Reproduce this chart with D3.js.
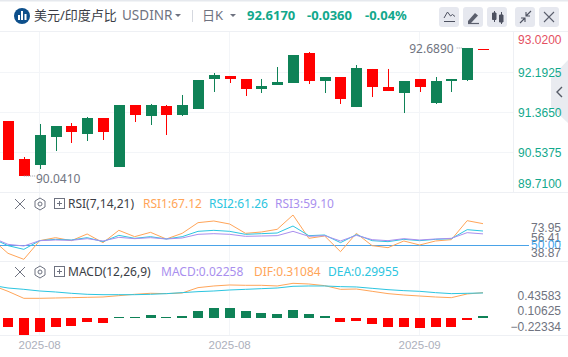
<!DOCTYPE html>
<html>
<head>
<meta charset="utf-8">
<title>USDINR</title>
<style>
  html,body{margin:0;padding:0;background:#fff;overflow:hidden;}
  svg{display:block;font-family:"Noto Sans","Noto Sans CJK SC",sans-serif;}
  .axis path,.axis line{display:none;}
</style>
<script src="https://d3js.org/d3.v7.min.js"></script>
</head>
<body>
<script>
// candles
var opens  = [91.179,90.393,90.269,90.848,91.075,90.910,91.241,90.227,91.510,91.282,91.489,91.303,91.427,92.048,92.110,92.048,91.841,91.924,91.965,92.586,92.006,92.089,91.468,92.255,91.882,91.758,92.048,91.551,92.006,92.027,92.660];
var closes = [90.372,90.041,90.889,91.075,90.951,91.241,90.951,91.510,91.303,91.510,91.303,91.510,92.027,92.130,92.048,91.841,91.903,91.986,92.544,92.006,92.089,91.634,92.275,91.882,91.799,92.006,91.882,92.006,92.048,92.689,92.650];
var highs  = [91.179,90.434,91.117,91.075,91.137,91.262,91.241,91.510,91.510,91.531,91.510,91.717,92.027,92.172,92.110,92.048,92.048,92.296,92.544,92.606,92.089,92.089,92.337,92.255,92.255,92.006,92.048,92.089,92.048,92.689,92.660];
var lows   = [90.372,90.041,90.186,90.558,90.724,90.765,90.786,90.227,91.158,91.096,90.889,91.282,91.427,91.779,91.965,91.696,91.758,91.924,91.965,91.944,91.758,91.531,91.468,91.675,91.799,91.344,91.779,91.531,91.779,92.006,92.650];

// first value of each line belongs to the candle just off the left edge
var rsi1 = [57.65,38.75,30.65,55.85,59.9,55.85,64.85,53.15,69.8,61.25,67.1,58.1,65.75,80.15,82.4,78.35,65.75,67.55,71.15,90.5,59,62.15,41,65.75,49.1,46.4,55.4,50,55.4,57.2,82.85,78.8];
var rsi2 = [59,49.1,44.15,55.85,57.65,56.75,59.9,54.5,63.05,59,61.25,58.1,61.25,68.45,69.8,68.45,64.4,65.3,66.2,75.65,62.6,63.5,53.15,63.95,55.85,54.5,57.65,55.85,57.65,58.55,70.7,68.9];
var rsi3 = [59.9,50.9,48.65,55.85,56.75,56.3,58.55,55.4,60.35,58.55,59.9,58.1,59.45,64.4,65.3,64.4,61.7,62.15,62.6,68.45,61.7,62.6,55.4,63.05,57.2,55.85,58.55,56.75,58.1,59,66.65,65];

var dif = [.684,.557,.409,.409,.416,.423,.430,.437,.465,.494,.515,.508,.522,.635,.670,.691,.684,.684,.670,.726,.712,.677,.599,.606,.557,.508,.479,.458,.437,.423,.501,.529];
var dea = [.684,.627,.599,.564,.543,.515,.494,.486,.486,.486,.494,.508,.529,.550,.564,.585,.599,.613,.627,.663,.670,.670,.656,.649,.620,.592,.571,.557,.529,.508,.515,.522];
var macdBars = [-.197,-.36,-.303,-.197,-.176,-.092,-.113,.012,.012,.056,.016,.035,.141,.204,.204,.141,.099,.078,.162,.078,.035,-.092,-.07,-.134,-.197,-.197,-.219,-.197,-.197,-.049,.035];

var priceTicks = [93.02,92.1925,91.365,90.5375,89.71];
var rsiTicks = [73.95,56.41,50,38.87];
var macdTicks = [0.43583,0.10625,-0.22334];
var dateTicks = [2,14,26];
var dateLabels = ["2025-08","2025-08","2025-09"];

var width = 568, height = 357;
var red = "#ff0000", green = "#0f8257", upText = "#12a88c", gridCol = "#f3f5f8";
var orange = "#ffa559", cyan = "#2cc5e0", purple = "#a98fee";

var svg = d3.select("body").append("svg").attr("width",width).attr("height",height);

var x = d3.scaleLinear().domain([0,30]).range([8,483]);
var y = d3.scaleLinear().domain([89.71,93.02]).range([192,32]);
var yRsi = d3.scaleLinear().domain([38.87,73.95]).range([253.24,227.26]);
var yMacd = d3.scaleLinear().domain([-0.22334,0.43583]).range([328.23,297.05]);

// top strip and grid
svg.append("rect").attr("width",width).attr("height",1.5).attr("fill","#e6e9ee");
svg.append("line").attr("x1",0).attr("x2",width).attr("y1",31.5).attr("y2",31.5).attr("stroke","#eef0f4");

var grid = svg.append("g").attr("stroke",gridCol).attr("fill","none");
grid.selectAll(".v").data(dateTicks).enter().append("line")
  .attr("x1",d=>Math.round(x(d))-.5).attr("x2",d=>Math.round(x(d))-.5)
  .attr("y1",32).attr("y2",335);
grid.selectAll(".h").data(priceTicks.slice(1,4)).enter().append("line")
  .attr("x1",0).attr("x2",513)
  .attr("y1",d=>Math.round(y(d))+.5).attr("y2",d=>Math.round(y(d))+.5);
[192.5,261.5,335.5].forEach(function(v){
  svg.append("line").attr("x1",0).attr("x2",width).attr("y1",v).attr("y2",v).attr("stroke","#eef0f4");
});
svg.append("line").attr("x1",513.5).attr("x2",513.5).attr("y1",32).attr("y2",192).attr("stroke","#eef0f4");

// side handle, sits under the axis labels
svg.append("path").attr("d","M568,60L551,78V107L568,123Z").attr("fill","#e9ebf0");
svg.append("path").attr("d","M562,87l-5,5l5,5").attr("fill","none").attr("stroke","#555a66").attr("stroke-width",1.4);

// candles
var candles = svg.append("g").selectAll("g").data(d3.range(opens.length)).enter().append("g");
candles.append("rect")
  .attr("x",i=>Math.round(x(i)))
  .attr("width",1)
  .attr("y",i=>y(highs[i]))
  .attr("height",i=>y(lows[i])-y(highs[i]))
  .attr("fill",i=>closes[i]>=opens[i]?green:red);
candles.append("rect")
  .attr("x",i=>Math.round(x(i))-5)
  .attr("width",11)
  .attr("y",i=>Math.round(y(Math.max(opens[i],closes[i]))))
  .attr("height",i=>Math.max(1,Math.round(y(Math.min(opens[i],closes[i]))-y(Math.max(opens[i],closes[i])))))
  .attr("fill",i=>closes[i]>=opens[i]?green:red);

// high / low markers
svg.append("text").text("92.6890").attr("x",x(29)-5-8.5).attr("y",y(92.689)+5)
  .attr("text-anchor","end").attr("font-size",12).attr("fill","#70747f");
svg.append("line").attr("x1",x(29)-10.5).attr("x2",x(29)-5).attr("y1",y(92.689)).attr("y2",y(92.689))
  .attr("stroke","#9a9ea8").attr("stroke-dasharray","1 1");
svg.append("text").text("90.0410").attr("x",36).attr("y",y(90.041)+7)
  .attr("font-size",12).attr("fill","#70747f");
svg.append("line").attr("x1",x(1)).attr("x2",36).attr("y1",y(90.041)).attr("y2",y(90.041))
  .attr("stroke","#9a9ea8").attr("stroke-dasharray","1 1");

// rsi
var xl = d3.scaleLinear().domain([-1,30]).range([x(-1),x(30)]);
var lineOf = function(sc){ return d3.line().x((d,i)=>xl(i-1)).y(d=>sc(d)); };
svg.append("line").attr("x1",0).attr("x2",529).attr("y1",Math.round(yRsi(50))+.5).attr("y2",Math.round(yRsi(50))+.5)
  .attr("stroke","#4aa3e8").attr("stroke-width",1);
[[rsi1,orange],[rsi2,cyan],[rsi3,purple]].forEach(function(s){
  svg.append("path").attr("d",lineOf(yRsi)(s[0])).attr("fill","none").attr("stroke",s[1]).attr("stroke-width",1);
});

// macd
svg.append("g").selectAll("rect").data(macdBars).enter().append("rect")
  .attr("x",(d,i)=>Math.round(x(i))-5)
  .attr("width",10)
  .attr("y",d=>d>=0?Math.round(yMacd(d)):Math.round(yMacd(0)))
  .attr("height",d=>Math.max(1,Math.round(Math.abs(yMacd(d)-yMacd(0)))))
  .attr("fill",d=>d>=0?green:red);
[[dif,orange],[dea,cyan]].forEach(function(s){
  svg.append("path").attr("d",lineOf(yMacd)(s[0])).attr("fill","none").attr("stroke",s[1]).attr("stroke-width",1);
});

// right axes
var priceAxis = d3.axisLeft(y).tickValues(priceTicks).tickFormat(d3.format(".4f")).tickSize(0);
var gp = svg.append("g").attr("class","axis").attr("transform","translate(561.5,0)").call(priceAxis);
gp.selectAll("text").attr("font-size",12).attr("x",0)
  .attr("fill",d=>d===93.02?"#e4505f":upText)
  .attr("dy",d=>d===93.02?"11":d===89.71?"-5":"4");

var rsiAxis = d3.axisLeft(yRsi).tickValues(rsiTicks).tickFormat(d3.format(".2f")).tickSize(0);
var gr = svg.append("g").attr("class","axis").attr("transform","translate(561,0)").call(rsiAxis);
gr.selectAll("text").attr("font-size",12).attr("x",0)
  .attr("dy",d=>d===56.41?"1":d===38.87?"3":"4")
  .attr("fill",d=>d===50?"#3fa6ee":"#6f7380");

var macdAxis = d3.axisLeft(yMacd).tickValues(macdTicks).tickFormat(d3.format(".5f")).tickSize(0);
var gm = svg.append("g").attr("class","axis").attr("transform","translate(561,-2)").call(macdAxis);
gm.selectAll("text").attr("font-size",12).attr("x",0).attr("dy","4").attr("fill","#6f7380");

// date axis
var dateAxis = d3.axisBottom(x).tickValues(dateTicks).tickFormat((d,i)=>dateLabels[i]).tickSize(0);
var gd = svg.append("g").attr("class","axis").attr("transform","translate(-0.5,338)").call(dateAxis);
gd.selectAll("text").attr("font-size",11.5).attr("y",3).attr("dy","0.71em").attr("fill","#acb0bc");

// header
var logo = svg.append("g").attr("transform","translate(22,16)");
logo.append("circle").attr("r",8).attr("fill","#0d4f8b");
[[-4,-1,2,5],[-1,-5,2,9],[2.5,-2,2,6]].forEach(function(b){
  logo.append("rect").attr("x",b[0]).attr("y",b[1]).attr("width",b[2]).attr("height",b[3]).attr("fill","#fff");
});
function hdr(t,xp,size,col,weight){
  return svg.append("text").text(t).attr("x",xp).attr("y",20).attr("font-size",size).attr("fill",col)
    .attr("font-weight",weight||400);
}
hdr("美元/印度卢比",34,13,"#3a3d45");
hdr("USDINR",122,13.5,"#6e7280");
hdr("日K",202,13,"#6e7280");
hdr("92.6170",247,13,upText,700);
hdr("-0.0360",307,13,upText,700);
hdr("-0.04%",365,13,upText,700);
function caret(cx,cy){
  svg.append("path").attr("d",`M${cx-3},${cy-2}L${cx+3},${cy-2}L${cx},${cy+1}Z`).attr("fill","#6e7280");
}
caret(178,16); caret(233,16);
svg.append("line").attr("x1",192.5).attr("x2",192.5).attr("y1",10).attr("y2",22).attr("stroke","#d5d8df");

// header buttons
var btns = svg.append("g");
[439,463,487,515,539].forEach(function(bx){
  btns.append("rect").attr("x",bx).attr("y",7).attr("width",20).attr("height",20).attr("rx",3).attr("fill","#e6e8ef");
});
btns.append("path").attr("d","M444,21.5h11M444,18l3.5,-6l3,4l2,-1.5l2.5,2").attr("fill","none").attr("stroke","#4d5160").attr("stroke-width",1);
btns.append("path").attr("d","M468,21l7,-8l3,2.5l-7,7.5l-3,.5z").attr("fill","#5b5f6d");
btns.append("path").attr("d","M468,23.5h11").attr("stroke","#5b5f6d").attr("stroke-width",1.2);
btns.append("path").attr("d","M492.5,13h3.5v6.5h-3.5zM499.5,15h3.5v7h-3.5zM494.5,11v11M501.5,12v12").attr("fill","#4d5160").attr("stroke","#4d5160");
btns.append("path").attr("d","M520,23l5,-5M525,22v-4h-4M531,11l-5,5M526,12v4h4").attr("fill","none").attr("stroke","#4d5160").attr("stroke-width",1.1);
btns.append("path").attr("d","M544,12l10,10M554,12l-10,10").attr("fill","none").attr("stroke","#5b5f6d").attr("stroke-width",1.1);

// panel titles
function panelHead(cy,name,items){
  var g = svg.append("g");
  g.append("path").attr("d",`M15,${cy-5}l10,10M25,${cy-5}l-10,10`).attr("stroke","#6e7280").attr("fill","none");
  g.append("path").attr("d",`M40,${cy-6}l5,3v6l-5,3l-5,-3v-6z`).attr("stroke","#6e7280").attr("fill","none");
  g.append("circle").attr("cx",40).attr("cy",cy).attr("r",2).attr("stroke","#6e7280").attr("fill","none");
  g.append("rect").attr("x",54.5).attr("y",cy-5.5).attr("width",10).attr("height",10).attr("stroke","#6e7280").attr("fill","none");
  g.append("path").attr("d",`M57,${cy-.5}h5M59.5,${cy-3}v5`).attr("stroke","#6e7280").attr("fill","none");
  g.append("text").text(name).attr("x",68).attr("y",cy+4).attr("font-size",12).attr("fill","#3a3d45");
  items.forEach(function(t){
    g.append("text").text(t[0]).attr("x",t[1]).attr("y",cy+4).attr("font-size",12).attr("fill",t[2]);
  });
}
panelHead(204,"RSI(7,14,21)",[["RSI1:67.12",143,orange],["RSI2:61.26",209,cyan],["RSI3:59.10",275,purple]]);
panelHead(272,"MACD(12,26,9)",[["MACD:0.02258",161,purple],["DIF:0.31084",254,orange],["DEA:0.29955",328,cyan]]);
</script>
</body>
</html>
